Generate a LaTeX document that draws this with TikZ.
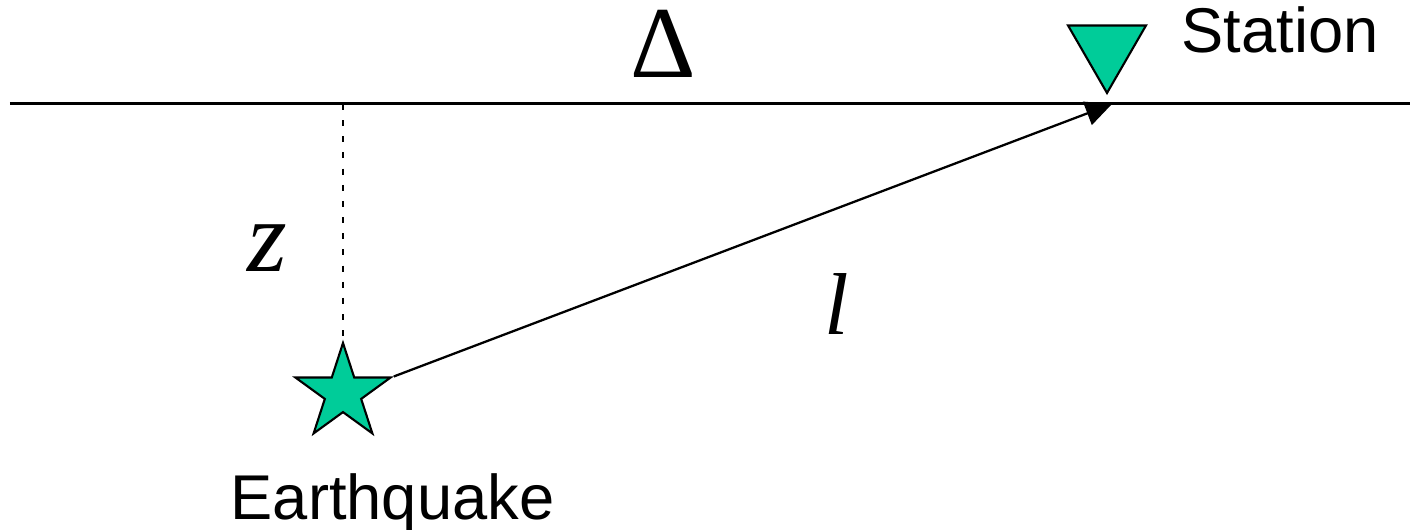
\documentclass[tikz,border=0pt]{standalone}
\usepackage{fontspec}
\setmainfont{Liberation Serif}
\newfontfamily\labelfont{Liberation Sans}
\usetikzlibrary{arrows.meta, shapes.geometric, positioning}
\definecolor{quakegreen}{RGB}{0,204,153}

\begin{document}
\begin{tikzpicture}[>={Triangle[length=15pt,width=14pt]},
    marker/.style={fill=quakegreen, draw=black, line width=1.2pt, inner sep=0pt},
    word/.style={font=\labelfont\fontsize{36}{36}\selectfont, anchor=base, inner sep=0pt},
    symb/.style={anchor=base, inner sep=0pt}]
    \useasboundingbox (0,0) rectangle (28.2,10.6);

    % Draw surface
    \coordinate (west) at (0.2,8.52);
    \coordinate (east) at (28.2,8.52);
    \draw[line width=1.7pt] (west) -- (east);

    % Draw earthquake and station
    \node[marker, star, star points=5, star point ratio=2.618, minimum size=2cm] (quake) at (6.86,2.74) {};
    \node[marker, regular polygon, regular polygon sides=3, shape border rotate=180, minimum size=1.8cm] (station) at (22.14,9.64) {};

    % Draw depth and ray
    \coordinate (epi) at (6.86,8.52);
    \coordinate (hit) at (22.24,8.52);
    \draw[dash pattern=on 3.4pt off 5.8pt, line width=1.2pt] (epi) -- (quake.outer point 1);
    \draw[->, line width=1.3pt] (quake.outer point 5) -- (hit);

    % Labels
    \node[word] (stationlabel) at (25.6,9.54) {Station};
    \node[word] (quakelabel) at (7.85,0.2) {Earthquake};
    \node[symb, font=\fontsize{58}{58}\selectfont] (delta) at (13.26,9.04) {Δ};
    \node[symb, font=\fontsize{58}{58}\selectfont\itshape] (depth) at (5.34,5.16) {z};
    \node[symb, font=\fontsize{50}{50}\selectfont\itshape] (dist) at (16.74,3.9) {l};
\end{tikzpicture}
\end{document}
